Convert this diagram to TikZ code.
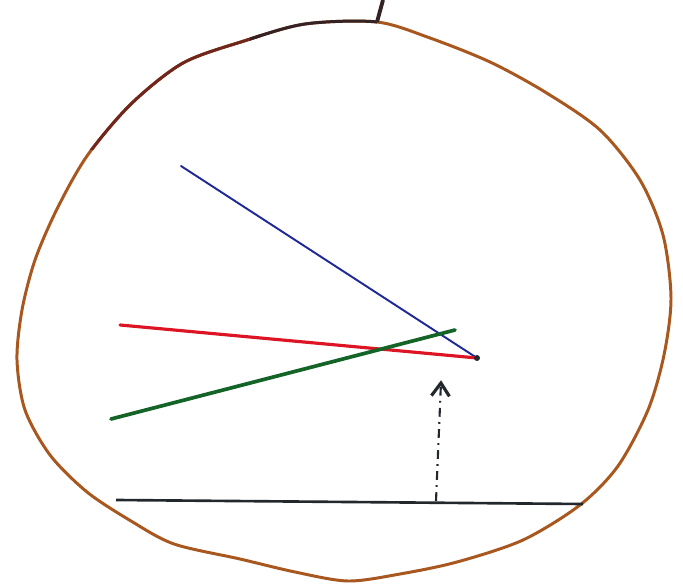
\documentclass[tikz,border=0pt]{standalone}
\usepackage{xcolor}
\usepackage{tikz}
\usetikzlibrary{arrows.meta}
\definecolor{rimbrown}{RGB}{168,88,30}
\definecolor{rimdark}{RGB}{112,38,28}
\definecolor{rimblack}{RGB}{52,34,36}
\definecolor{rayblue}{RGB}{30,40,150}
\definecolor{rayred}{RGB}{220,20,35}
\definecolor{raygreen}{RGB}{20,100,40}
\definecolor{floor}{RGB}{35,40,45}
\def\rimpath{plot[smooth cycle, tension=0.5] coordinates {
  (377,22) (430,38) (490,62) (545,92) (600,130) (640,180) (663,235)
  (671,298) (664,355) (648,410) (618,466) (580,505) (523,540) (457,562)
  (400,574) (348,581) (295,572) (240,559) (174,544) (131,521) (87,492)
  (50,455) (25,410) (17,360) (22,310) (35,260) (57,209) (87,156)
  (131,104) (183,63) (244,41) (305,24)}}

\begin{document}
\begin{tikzpicture}[
  x=0.02cm, y=-0.02cm,
  rim/.style={draw=rimbrown, line width=1.7pt, line join=round},
  ray/.style={line width=#1, line cap=round},
  ray/.default=1.5pt,
  lift/.style={floor, line width=1.2pt, dash pattern=on 5pt off 3pt on 1pt off 3pt,
    -{Straight Barb[length=2.6mm,width=3.6mm,line width=1.8pt]}, shorten >=-1pt},
]
\useasboundingbox (0,0) rectangle (683,584);

% outer rim (hand drawn), darker towards the top left
\draw[rim] \rimpath;
\begin{scope}
  \clip (0,0) rectangle (262,150);
  \draw[rim, draw=rimdark] \rimpath;
\end{scope}
\begin{scope}
  \clip (250,0) rectangle (377,60);
  \draw[rim, draw=rimblack] \rimpath;
\end{scope}
\coordinate (top) at (377,22);
\coordinate (stem) at (383,0);
\draw[rimblack, line width=2.2pt] (top) -- (stem);

% rays
\coordinate (apex) at (477,358);
\coordinate (blueend) at (181,166);
\coordinate (redend) at (120,325);
\coordinate (greenA) at (111,419);
\coordinate (greenB) at (455,330);
\draw[ray=1.1pt, rayblue] (blueend) -- (apex);
\draw[ray=1.8pt, rayred] (redend) -- (apex);
\draw[ray=2.1pt, raygreen] (greenA) -- (greenB);
\fill[floor] (apex) circle (3);

% floor line and lift arrow
\coordinate (floorL) at (116,500);
\coordinate (floorR) at (583,504);
\draw[floor, line width=1.5pt] (floorL) -- (floorR);
\coordinate (liftfoot) at (436,501);
\coordinate (lifttip) at (441,382);
\draw[lift] (liftfoot) -- (lifttip);
\end{tikzpicture}
\end{document}
